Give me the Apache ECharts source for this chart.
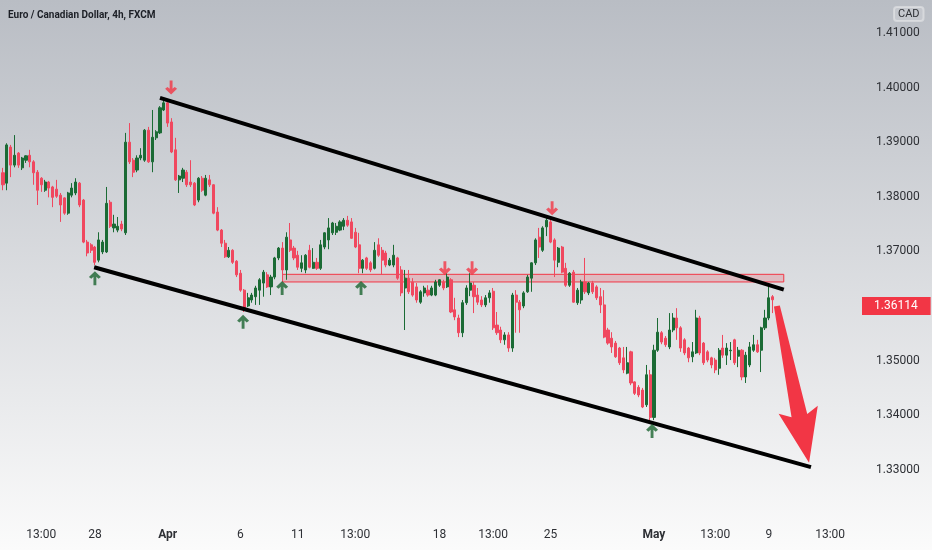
<!DOCTYPE html>
<html>
<head>
<meta charset="utf-8">
<title>EURCAD 4h</title>
<script src="https://cdn.jsdelivr.net/npm/echarts@6/dist/echarts.min.js"></script>
<style>
html,body{margin:0;padding:0;}
#chart{width:932px;height:550px;}
</style>
</head>
<body>
<div id="chart"></div>
<script>
// 4h candles (price)
var opens = [
	1.3844,1.3825,1.3891,1.3858,1.3880,1.3853,1.3867,1.3876,1.3864,1.3845,
	1.3834,1.3812,1.3827,1.3818,1.3814,1.3803,1.3798,1.3770,1.3803,1.3807,
	1.3825,1.3794,1.3717,1.3712,1.3708,1.3684,1.3699,1.3699,1.3790,1.3743,
	1.3739,1.3750,1.3734,1.3900,1.3867,1.3849,1.3871,1.3867,1.3922,1.3864,
	1.3908,1.3917,1.3959,1.3972,1.3937,1.3886,1.3831,1.3834,1.3845,1.3827,
	1.3825,1.3794,1.3834,1.3803,1.3831,1.3822,1.3772,1.3739,1.3715,1.3690,
	1.3702,1.3682,1.3660,1.3629,1.3600,1.3611,1.3617,1.3629,1.3642,1.3657,
	1.3635,1.3653,1.3688,1.3706,1.3666,1.3721,1.3706,1.3693,1.3669,1.3666,
	1.3702,1.3669,1.3680,1.3669,1.3708,1.3721,1.3734,1.3735,1.3739,1.3746,
	1.3757,1.3754,1.3735,1.3712,1.3669,1.3688,1.3679,1.3669,1.3712,1.3702,
	1.3697,1.3675,1.3675,1.3688,1.3666,1.3633,1.3651,1.3644,1.3635,1.3607,
	1.3624,1.3629,1.3620,1.3620,1.3638,1.3644,1.3635,1.3648,1.3593,1.3578,
	1.3551,1.3606,1.3629,1.3638,1.3620,1.3611,1.3602,1.3615,1.3627,1.3565,
	1.3556,1.3538,1.3547,1.3523,1.3620,1.3607,1.3600,1.3626,1.3651,1.3679,
	1.3726,1.3702,1.3745,1.3754,1.3721,1.3680,1.3708,1.3669,1.3638,1.3662,
	1.3606,1.3611,1.3644,1.3624,1.3642,1.3635,1.3617,1.3602,1.3556,1.3541,
	1.3532,1.3523,1.3505,1.3477,1.3516,1.3461,1.3451,1.3446,1.3419,1.3474,
	1.3396,1.3519,1.3551,1.3541,1.3525,1.3556,1.3578,1.3560,1.3538,1.3523,
	1.3507,1.3514,1.3578,1.3532,1.3516,1.3505,1.3501,1.3486,1.3523,1.3510,
	1.3518,1.3538,1.3508,1.3519,1.3470,1.3492,1.3519,1.3529,1.3519,1.3560,
	1.3578,1.3617
];
var closes = [
	1.3822,1.3895,1.3858,1.3876,1.3858,1.3871,1.3875,1.3864,1.3844,1.3812,
	1.3822,1.3827,1.3816,1.3799,1.3801,1.3785,1.3770,1.3807,1.3816,1.3827,
	1.3785,1.3717,1.3697,1.3702,1.3680,1.3721,1.3717,1.3788,1.3746,1.3750,
	1.3746,1.3741,1.3900,1.3864,1.3845,1.3871,1.3876,1.3922,1.3864,1.3909,
	1.3919,1.3963,1.3972,1.3935,1.3882,1.3831,1.3838,1.3849,1.3822,1.3822,
	1.3785,1.3834,1.3812,1.3834,1.3822,1.3770,1.3739,1.3715,1.3690,1.3702,
	1.3680,1.3657,1.3629,1.3596,1.3615,1.3620,1.3633,1.3648,1.3662,1.3635,
	1.3653,1.3688,1.3706,1.3666,1.3726,1.3702,1.3688,1.3671,1.3679,1.3693,
	1.3671,1.3680,1.3669,1.3712,1.3734,1.3743,1.3752,1.3746,1.3754,1.3757,
	1.3748,1.3724,1.3708,1.3669,1.3684,1.3669,1.3666,1.3702,1.3693,1.3684,
	1.3675,1.3684,1.3693,1.3651,1.3624,1.3651,1.3626,1.3620,1.3611,1.3626,
	1.3633,1.3620,1.3633,1.3644,1.3648,1.3633,1.3653,1.3589,1.3580,1.3551,
	1.3606,1.3633,1.3642,1.3617,1.3607,1.3602,1.3615,1.3624,1.3560,1.3551,
	1.3538,1.3547,1.3523,1.3620,1.3607,1.3593,1.3624,1.3653,1.3679,1.3721,
	1.3708,1.3743,1.3757,1.3717,1.3684,1.3706,1.3662,1.3638,1.3660,1.3607,
	1.3629,1.3644,1.3626,1.3642,1.3626,1.3615,1.3602,1.3543,1.3532,1.3525,
	1.3507,1.3496,1.3483,1.3496,1.3459,1.3440,1.3437,1.3415,1.3474,1.3396,
	1.3519,1.3552,1.3534,1.3529,1.3556,1.3578,1.3560,1.3523,1.3514,1.3505,
	1.3516,1.3578,1.3514,1.3496,1.3501,1.3492,1.3483,1.3519,1.3510,1.3523,
	1.3519,1.3496,1.3519,1.3470,1.3510,1.3525,1.3529,1.3516,1.3560,1.3578,
	1.3615,1.36114
];
var lows = [
	1.3812,1.3812,1.3836,1.3854,1.3853,1.3849,1.3862,1.3854,1.3822,1.3785,
	1.3809,1.3809,1.3799,1.3781,1.3798,1.3754,1.3767,1.3767,1.3799,1.3803,
	1.3781,1.3715,1.3691,1.3697,1.3675,1.3680,1.3695,1.3697,1.3743,1.3735,
	1.3735,1.3737,1.3730,1.3860,1.3836,1.3845,1.3867,1.3864,1.3862,1.3845,
	1.3904,1.3915,1.3957,1.3928,1.3880,1.3829,1.3807,1.3827,1.3818,1.3818,
	1.3783,1.3790,1.3809,1.3801,1.3818,1.3768,1.3737,1.3708,1.3688,1.3688,
	1.3677,1.3653,1.3626,1.3589,1.3598,1.3606,1.3602,1.3602,1.3617,1.3633,
	1.3620,1.3649,1.3684,1.3644,1.3648,1.3699,1.3684,1.3666,1.3662,1.3660,
	1.3669,1.3668,1.3666,1.3666,1.3704,1.3704,1.3730,1.3730,1.3737,1.3739,
	1.3745,1.3723,1.3706,1.3660,1.3660,1.3666,1.3662,1.3667,1.3690,1.3657,
	1.3671,1.3673,1.3671,1.3648,1.3618,1.3556,1.3622,1.3617,1.3606,1.3604,
	1.3617,1.3617,1.3618,1.3618,1.3635,1.3629,1.3633,1.3587,1.3574,1.3543,
	1.3543,1.3602,1.3618,1.3587,1.3602,1.3598,1.3598,1.3606,1.3556,1.3547,
	1.3532,1.3529,1.3516,1.3516,1.3551,1.3551,1.3596,1.3624,1.3626,1.3675,
	1.3688,1.3699,1.3728,1.3715,1.3653,1.3671,1.3660,1.3635,1.3635,1.3606,
	1.3602,1.3604,1.3622,1.3620,1.3622,1.3611,1.3587,1.3541,1.3529,1.3514,
	1.3505,1.3492,1.3477,1.3475,1.3455,1.3437,1.3433,1.3413,1.3415,1.3386,
	1.3391,1.3516,1.3530,1.3525,1.3521,1.3552,1.3538,1.3516,1.3510,1.3497,
	1.3497,1.3512,1.3510,1.3492,1.3497,1.3486,1.3477,1.3474,1.3505,1.3492,
	1.3501,1.3492,1.3488,1.3464,1.3459,1.3488,1.3516,1.3514,1.3479,1.3556,
	1.3574,1.3587
];
var highs = [
	1.3853,1.3898,1.3895,1.3913,1.3882,1.3873,1.3876,1.3886,1.3867,1.3849,
	1.3836,1.3831,1.3829,1.3820,1.3831,1.3807,1.3799,1.3809,1.3825,1.3834,
	1.3827,1.3796,1.3721,1.3715,1.3710,1.3735,1.3721,1.3818,1.3794,1.3767,
	1.3763,1.3756,1.3917,1.3935,1.3871,1.3876,1.3889,1.3924,1.3928,1.3959,
	1.3922,1.3966,1.3977,1.3979,1.3944,1.3908,1.3840,1.3853,1.3849,1.3867,
	1.3827,1.3836,1.3838,1.3840,1.3840,1.3823,1.3781,1.3741,1.3721,1.3708,
	1.3704,1.3684,1.3666,1.3631,1.3624,1.3624,1.3637,1.3651,1.3666,1.3662,
	1.3657,1.3690,1.3708,1.3717,1.3735,1.3752,1.3710,1.3701,1.3693,1.3695,
	1.3712,1.3706,1.3688,1.3721,1.3735,1.3761,1.3754,1.3752,1.3757,1.3761,
	1.3765,1.3761,1.3743,1.3734,1.3686,1.3690,1.3682,1.3717,1.3724,1.3708,
	1.3701,1.3688,1.3712,1.3690,1.3673,1.3666,1.3666,1.3651,1.3642,1.3629,
	1.3637,1.3638,1.3637,1.3648,1.3649,1.3648,1.3660,1.3651,1.3615,1.3584,
	1.3611,1.3638,1.3660,1.3644,1.3633,1.3618,1.3620,1.3629,1.3633,1.3589,
	1.3562,1.3552,1.3552,1.3624,1.3629,1.3611,1.3627,1.3657,1.3680,1.3724,
	1.3743,1.3746,1.3761,1.3761,1.3724,1.3708,1.3710,1.3679,1.3662,1.3666,
	1.3633,1.3648,1.3688,1.3644,1.3646,1.3638,1.3633,1.3629,1.3560,1.3552,
	1.3536,1.3525,1.3525,1.3525,1.3518,1.3462,1.3455,1.3450,1.3492,1.3483,
	1.3529,1.3578,1.3554,1.3545,1.3587,1.3587,1.3596,1.3563,1.3541,1.3525,
	1.3534,1.3593,1.3582,1.3534,1.3519,1.3507,1.3505,1.3523,1.3547,1.3532,
	1.3534,1.3540,1.3525,1.3521,1.3516,1.3534,1.3547,1.3538,1.3562,1.3593,
	1.3640,1.3620
];

// time axis: number of bar slots and the labels that show
var slotCount = 223;
var tickLabels = [
	[10,'13:00'],[24,'28'],[43,'Apr'],[62,'6'],[77,'11'],[92,'13:00'],[114,'18'],
	[128,'13:00'],[143,'25'],[170,'May'],[186,'13:00'],[200,'9'],[216,'13:00']
];
var monthNames = ['Apr','May'];

// price scale shown
var priceMin = 1.32, priceMax = 1.41604, priceStep = 0.01;

// drawings on the chart: [bar index, price]
var upperChannel = [[41.0,1.3981],[203.9,1.3630]];
var lowerChannel = [[23.8,1.3671],[211.0,1.3305]];
var zoneBox = [[73.0,1.3658],[203.9,1.3644]];
var downMarks = [[43.9,1.4000],[115.4,1.3669],[122.5,1.3669],[143.4,1.3779]];
var upMarks = [[24.0,1.3651],[62.7,1.3571],[72.9,1.3633],[93.5,1.3633],[169.5,1.3371]];
var bigArrow = [[202.1,1.3600,210.5,1.3313]];
var lastPrice = 1.36114;

var UP = '#1b6b35', DOWN = '#f0485f', MARK_RED = '#f23645', MARK_GREEN = '#1a6430';

var chart = echarts.init(document.getElementById('chart'));

var categories = [];
for (var i = 0; i < slotCount; i++) categories.push('');
tickLabels.forEach(function (t) { categories[t[0]] = t[1]; });

var candleData = opens.map(function (o, i) {
	return [o, closes[i], lows[i], highs[i]];
});

var arrowPath = 'path://M5,0 L10,5 L8,6.6 L6.2,4.9 L6.2,12 L3.8,12 L3.8,4.9 L2,6.6 L0,5 Z';

var option = {
	animation: false,
	backgroundColor: new echarts.graphic.LinearGradient(0, 0, 0, 1, [
		{offset: 0, color: '#b9bdc4'},
		{offset: 1, color: '#fbfbfb'}
	]),
	grid: {left: 0, right: 77, top: 0, bottom: 25.6},
	xAxis: [{
		type: 'category',
		data: categories,
		boundaryGap: true,
		axisLine: {show: false},
		axisTick: {show: false},
		splitLine: {show: false},
		axisLabel: {
			interval: 0,
			margin: 5,
			color: '#2e3035',
			fontSize: 12,
			fontFamily: 'Roboto',
			formatter: function (v) {
				if (!v) return '';
				return monthNames.indexOf(v) >= 0 ? '{b|' + v + '}' : v;
			},
			rich: {b: {fontWeight: 'bold', fontSize: 12, color: '#2e3035', fontFamily: 'Roboto'}}
		}
	}, {
		type: 'value',
		min: -0.5,
		max: slotCount - 0.5,
		show: false
	}],
	yAxis: [{
		type: 'value',
		position: 'right',
		min: priceMin,
		max: priceMax,
		interval: priceStep,
		axisLine: {show: false},
		axisTick: {show: false},
		splitLine: {show: false},
		axisLabel: {
			align: 'left',
			margin: 21,
			color: '#2e3035',
			fontSize: 12,
			fontFamily: 'Roboto',
			showMaxLabel: false,
			formatter: function (v) {
				if (v < 1.325 || v > 1.415) return '';
				return v.toFixed(5);
			}
		}
	}],
	graphic: [{
		type: 'text',
		left: 8,
		top: 10,
		style: {
			text: 'Euro / Canadian Dollar, 4h, FXCM',
			fontSize: 10,
			fontWeight: 'bold',
			fontFamily: 'Roboto',
			fill: '#1c1f26'
		}
	}, {
		type: 'text',
		left: 893,
		top: 6,
		style: {
			text: 'CAD',
			fontSize: 11,
			fontFamily: 'Roboto',
			fill: '#2e3035',
			backgroundColor: 'rgba(255,255,255,0.15)',
			borderColor: '#d4d6da',
			borderWidth: 1,
			borderRadius: 3,
			padding: [2, 4, 1, 4]
		}
	}],
	series: [{
		type: 'candlestick',
		xAxisIndex: 0,
		yAxisIndex: 0,
		data: candleData,
		barWidth: 2.6,
		itemStyle: {
			color: UP,
			color0: DOWN,
			borderColor: UP,
			borderColor0: DOWN,
			borderWidth: 1
		}
	}, {
		// last price tag on the price scale
		type: 'line',
		xAxisIndex: 1,
		yAxisIndex: 0,
		data: [],
		markLine: {
			silent: true,
			symbol: 'none',
			lineStyle: {color: 'rgba(0,0,0,0)', width: 1, type: 'solid'},
			data: [{yAxis: lastPrice}],
			label: {
				show: true,
				position: 'end',
				distance: 7,
				formatter: function () { return lastPrice.toFixed(5); },
				color: '#ffffff',
				backgroundColor: MARK_RED,
				padding: [3, 13, 3, 12],
				fontSize: 12,
				fontFamily: 'Roboto'
			}
		},
		z: 8
	}, {
		type: 'line',
		xAxisIndex: 1,
		yAxisIndex: 0,
		data: upperChannel,
		symbol: 'none',
		lineStyle: {color: '#000', width: 4},
		z: 5,
		markArea: {
			silent: true,
			itemStyle: {color: 'rgba(242,54,69,0.2)', borderColor: MARK_RED, borderWidth: 1},
			data: [[{coord: zoneBox[0]}, {coord: zoneBox[1]}]]
		}
	}, {
		type: 'line',
		xAxisIndex: 1,
		yAxisIndex: 0,
		data: lowerChannel,
		symbol: 'none',
		lineStyle: {color: '#000', width: 4},
		z: 5
	}, {
		type: 'scatter',
		xAxisIndex: 1,
		yAxisIndex: 0,
		data: downMarks,
		symbol: arrowPath,
		symbolSize: [12, 14],
		symbolRotate: 180,
		itemStyle: {color: MARK_RED},
		z: 6
	}, {
		type: 'scatter',
		xAxisIndex: 1,
		yAxisIndex: 0,
		data: upMarks,
		symbol: arrowPath,
		symbolSize: [12, 14],
		itemStyle: {color: MARK_GREEN},
		z: 6
	}, {
		type: 'custom',
		xAxisIndex: 1,
		yAxisIndex: 0,
		data: bigArrow,
		encode: {x: [0, 2], y: [1, 3]},
		z: 7,
		renderItem: function (params, api) {
			var a = api.coord([api.value(0), api.value(1)]);
			var b = api.coord([api.value(2), api.value(3)]);
			var dx = b[0] - a[0], dy = b[1] - a[1];
			var len = Math.sqrt(dx * dx + dy * dy);
			var ux = dx / len, uy = dy / len, nx = -uy, ny = ux;
			var headLen = 48, headHalf = 20, tailHalf = 3, neckHalf = 8;
			var bx = b[0] - ux * headLen, by = b[1] - uy * headLen;
			var pts = [
				[a[0] + nx * tailHalf, a[1] + ny * tailHalf],
				[bx + nx * neckHalf, by + ny * neckHalf],
				[bx + nx * headHalf - ux * 6, by + ny * headHalf - uy * 6],
				b,
				[bx - nx * headHalf - ux * 6, by - ny * headHalf - uy * 6],
				[bx - nx * neckHalf, by - ny * neckHalf],
				[a[0] - nx * tailHalf, a[1] - ny * tailHalf]
			];
			return {type: 'polygon', shape: {points: pts}, style: {fill: MARK_RED}};
		}
	}]
};

chart.setOption(option);
</script>
</body>
</html>
